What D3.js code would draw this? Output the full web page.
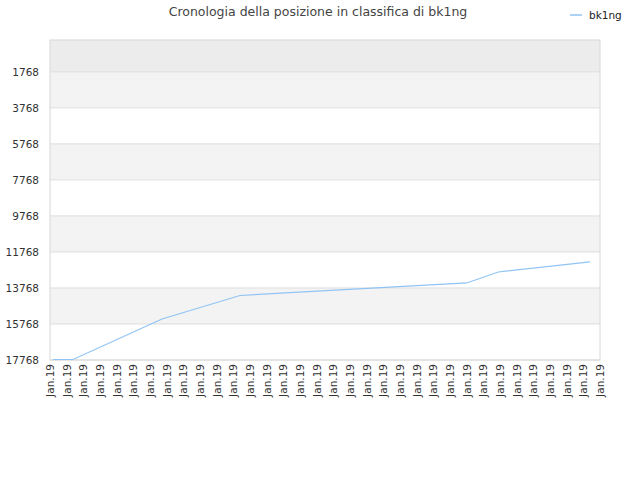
<!DOCTYPE html><html><head><meta charset="utf-8"><script src="https://d3js.org/d3.v7.min.js"></script>
<style>body{margin:0;background:#fff}text{font-family:"DejaVu Sans",sans-serif}</style></head><body>
<script>
const xLabels = Array(34).fill("Jan.19");
const yTicks = [1768,3768,5768,7768,9768,11768,13768,15768,17768];
const pointPos = [0.18,1.38,6.72,11.4,25.0,26.9,32.4];
const ranks = [17740,17740,15492,14186,13491,12880,12324];
const seriesName = "bk1ng";

const W=640,H=480,L=50,R=600,T=40,B=360;
const svg=d3.select("body").append("svg").attr("width",W).attr("height",H);
const x=d3.scaleLinear().domain([0,33]).range([L,R]);
const y=d3.scaleLinear().domain([0,17768]).range([T,B]);
const edges=[0,...yTicks];
for(let i=0;i<edges.length-1;i++){
  const fill = i===0?"#ececec":(i%2===1?"#f3f3f3":"#ffffff");
  svg.append("rect").attr("x",L).attr("y",y(edges[i])).attr("width",R-L).attr("height",y(edges[i+1])-y(edges[i])).attr("fill",fill);
}
svg.selectAll("line.g").data(yTicks).join("line").attr("x1",L).attr("x2",R).attr("y1",d=>y(d)).attr("y2",d=>y(d)).attr("stroke","#dedede");
svg.append("rect").attr("x",L).attr("y",T).attr("width",R-L).attr("height",B-T).attr("fill","none").attr("stroke","#d8d8d8");
svg.selectAll("text.y").data(yTicks).join("text").attr("x",L-11).attr("y",d=>y(d)+4).attr("text-anchor","end").attr("font-size",10.5).attr("fill","#333").text(d=>d);
svg.selectAll("text.x").data(xLabels).join("text")
  .attr("transform",(d,i)=>`translate(${x(i)+4},${B+4}) rotate(-90)`)
  .attr("text-anchor","end").attr("font-size",10.5).attr("fill","#333").text(d=>d);
const data=pointPos.map((p,i)=>[p,ranks[i]]);
svg.append("path").datum(data).attr("d",d3.line().x(d=>x(d[0])).y(d=>y(d[1])))
  .attr("fill","none").attr("stroke","#90c4f5").attr("stroke-width",1.2);
svg.append("text").attr("x",318).attr("y",16).attr("text-anchor","middle").attr("font-size",12.5).attr("fill","#444").text("Cronologia della posizione in classifica di bk1ng");
svg.append("line").attr("x1",570).attr("x2",582).attr("y1",15).attr("y2",15).attr("stroke","#90c4f5").attr("stroke-width",1.5);
svg.append("text").attr("x",589).attr("y",19).attr("font-size",10.5).attr("font-family","DejaVu Sans Mono").attr("fill","#222").text(seriesName);
</script></body></html>
